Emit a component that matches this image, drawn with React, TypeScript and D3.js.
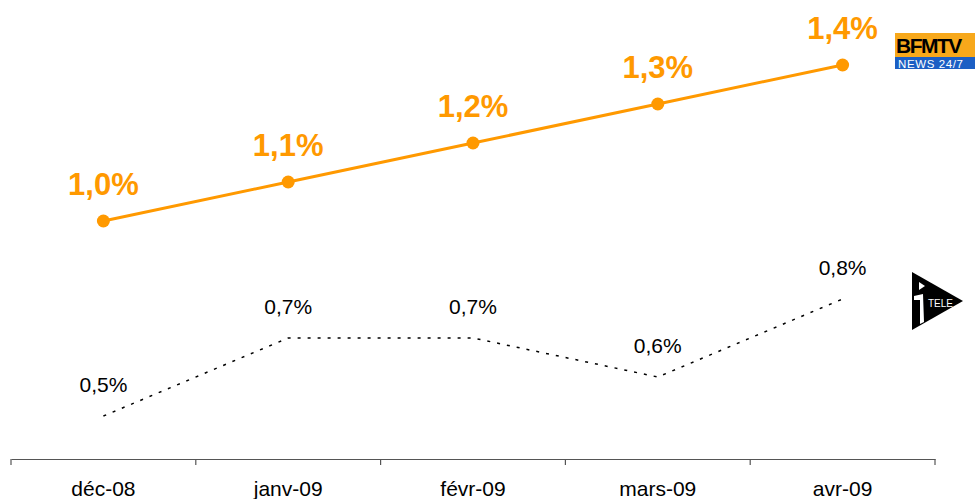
import React, { useRef, useEffect } from "react";
import * as d3 from "d3";

const months = ["déc-08", "janv-09", "févr-09", "mars-09", "avr-09"];
const bfmValues = [1.0, 1.1, 1.2, 1.3, 1.4];
const iteleValues = [0.5, 0.7, 0.7, 0.6, 0.8];

const fmt = (v: number) => v.toFixed(1).replace(".", ",") + "%";

const App: React.FC = () => {
  const svgRef = useRef<SVGSVGElement | null>(null);

  useEffect(() => {
    if (!svgRef.current) return;
    const svg = d3.select(svgRef.current);
    svg.selectAll("*").remove();

    const width = 975;
    const height = 499;
    const font = "Liberation Sans, Arial, sans-serif";

    const x = d3.scaleBand().domain(months).range([11, 935]);
    const y = d3.scaleLinear().domain([0.5, 1.4]).range([416, 65]);
    const cx = (d: string) => (x(d) || 0) + x.bandwidth() / 2;

    svg.append("rect").attr("width", width).attr("height", height).attr("fill", "#fff");

    // x axis
    const axis = svg
      .append("g")
      .attr("transform", "translate(0,459)")
      .call(d3.axisBottom(x).tickSize(0).tickPadding(22));
    axis.select(".domain").attr("stroke", "#555").attr("stroke-width", 1.2);
    axis
      .selectAll(".tick text")
      .attr("font-family", font)
      .attr("font-size", 21)
      .attr("fill", "#000");
    const edges = months.map((m) => x(m) || 0).concat([935]);
    svg
      .append("g")
      .selectAll("line")
      .data(edges)
      .enter()
      .append("line")
      .attr("x1", (d) => d)
      .attr("x2", (d) => d)
      .attr("y1", 459)
      .attr("y2", 465)
      .attr("stroke", "#555")
      .attr("stroke-width", 1.2);

    // i>Télé dotted line
    const line = d3
      .line<number>()
      .x((_, i) => cx(months[i]))
      .y((d) => y(d));

    svg
      .append("path")
      .datum(iteleValues)
      .attr("d", line)
      .attr("fill", "none")
      .attr("stroke", "#000")
      .attr("stroke-width", 1.5)
      .attr("stroke-dasharray", "3,7");

    svg
      .append("g")
      .selectAll("text")
      .data(iteleValues)
      .enter()
      .append("text")
      .attr("x", (_, i) => cx(months[i]))
      .attr("y", (d) => y(d) - 24)
      .attr("text-anchor", "middle")
      .attr("font-family", font)
      .attr("font-size", 21)
      .attr("fill", "#000")
      .text((d) => fmt(d));

    // BFM TV orange line
    const orange = "#FF9900";
    svg
      .append("path")
      .datum(bfmValues)
      .attr("d", line)
      .attr("fill", "none")
      .attr("stroke", orange)
      .attr("stroke-width", 3);

    svg
      .append("g")
      .selectAll("circle")
      .data(bfmValues)
      .enter()
      .append("circle")
      .attr("cx", (_, i) => cx(months[i]))
      .attr("cy", (d) => y(d))
      .attr("r", 6.5)
      .attr("fill", orange);

    svg
      .append("g")
      .selectAll("text")
      .data(bfmValues)
      .enter()
      .append("text")
      .attr("x", (_, i) => cx(months[i]))
      .attr("y", (d) => y(d) - 26)
      .attr("text-anchor", "middle")
      .attr("font-family", font)
      .attr("font-size", 31)
      .attr("font-weight", "bold")
      .attr("fill", orange)
      .text((d) => fmt(d));

    // BFM TV logo
    const bfm = svg.append("g").attr("transform", "translate(895,33)");
    bfm.append("rect").attr("width", 85).attr("height", 24).attr("fill", "#F7A81B");
    bfm.append("rect").attr("y", 24).attr("width", 85).attr("height", 12).attr("fill", "#1C5FC4");
    bfm
      .append("text")
      .attr("x", 1)
      .attr("y", 20)
      .attr("font-family", font)
      .attr("font-weight", "bold")
      .attr("font-size", 21)
      .attr("letter-spacing", -1.5)
      .attr("fill", "#000")
      .text("BFMTV");
    bfm
      .append("text")
      .attr("x", 3)
      .attr("y", 34.5)
      .attr("font-family", font)
      .attr("font-size", 11.5)
      .attr("letter-spacing", 0.6)
      .attr("fill", "#fff")
      .text("NEWS 24/7");

    // i>Télé logo
    const it = svg.append("g").attr("transform", "translate(912,272)");
    it.append("path").attr("d", "M0,0 L51,29 L0,58 Z").attr("fill", "#000");
    it.append("path").attr("d", "M7,10 L13,14 L7,18 Z").attr("fill", "#fff");
    it.append("path").attr("d", "M2,24 L11,22 L12,50 L8,52 L8,28 L2,28 Z").attr("fill", "#fff");
    it
      .append("text")
      .attr("x", 16)
      .attr("y", 35)
      .attr("font-family", font)
      .attr("font-size", 10)
      .attr("fill", "#fff")
      .text("TELE");
  }, []);

  return (
    <div style={{ position: "absolute", left: 0, top: 0 }}>
      <svg ref={svgRef} width={975} height={499} style={{ display: "block" }} />
    </div>
  );
};

export default App;
